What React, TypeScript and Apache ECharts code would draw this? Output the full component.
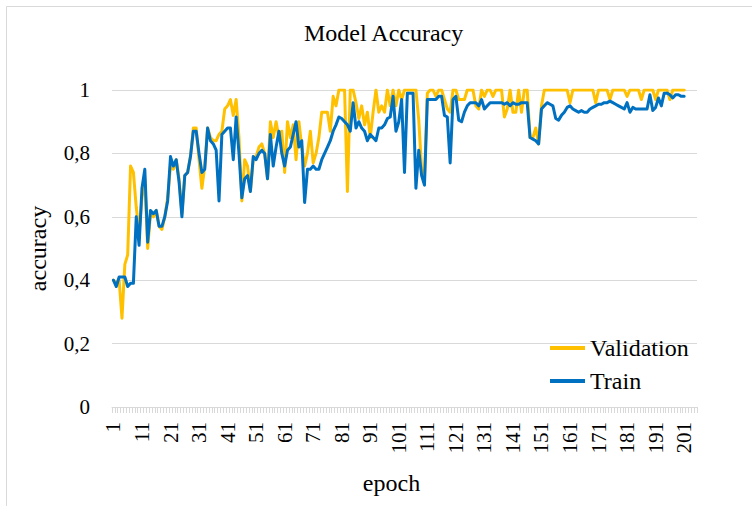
import React, { useEffect, useRef } from "react";
import * as echarts from "echarts";

const FONT = "Liberation Serif";

// epochs on the category axis (axis extends a few bands past the last data point)
const epochs: string[] = Array.from({ length: 205 }, (_, i) => String(i + 1));

const validation: number[] = [
  0.40, 0.39, 0.40, 0.28, 0.45, 0.48, 0.76, 0.74, 0.63, 0.55,
  0.66, 0.72, 0.50, 0.61, 0.60, 0.62, 0.57, 0.56, 0.60, 0.66,
  0.76, 0.75, 0.78, 0.72, 0.61, 0.73, 0.74, 0.79, 0.88, 0.88,
  0.78, 0.69, 0.76, 0.88, 0.85, 0.84, 0.84, 0.86, 0.87, 0.94,
  0.95, 0.97, 0.92, 0.97, 0.85, 0.65, 0.78, 0.76, 0.68, 0.78,
  0.79, 0.82, 0.83, 0.80, 0.72, 0.90, 0.85, 0.90, 0.85, 0.87,
  0.74, 0.90, 0.85, 0.89, 0.78, 0.90, 0.82, 0.76, 0.80, 0.87,
  0.77, 0.80, 0.85, 0.93, 0.93, 0.93, 0.87, 0.98, 0.95, 1.0,
  1.0, 1.0, 0.68, 1.0, 1.0, 0.96, 0.91, 0.95, 0.89, 0.93,
  0.85, 0.93, 1.0, 0.93, 0.95, 0.93, 1.0, 0.95, 1.0, 0.95,
  1.0, 0.97, 1.0, 1.0, 1.0, 1.0, 1.0, 0.905, 0.75, 0.72,
  0.99, 1.0, 1.0, 0.98, 1.0, 1.0, 0.97, 0.94, 0.93, 1.0,
  1.0, 0.97, 0.97, 0.97, 1.0, 1.0, 1.0, 0.95, 0.94, 1.0,
  0.98, 1.0, 1.0, 0.98, 1.0, 1.0, 1.0, 0.915, 0.94, 1.0,
  0.93, 0.93, 1.0, 0.93, 1.0, 1.0, 0.85, 0.85, 0.88, 0.83,
  0.95, 1.0, 1.0, 1.0, 1.0, 1.0, 1.0, 1.0, 1.0, 1.0,
  0.96, 1.0, 1.0, 1.0, 1.0, 1.0, 1.0, 1.0, 1.0, 0.96,
  1.0, 1.0, 1.0, 1.0, 0.97, 1.0, 1.0, 1.0, 1.0, 1.0,
  0.98, 1.0, 1.0, 1.0, 1.0, 0.97, 1.0, 1.0, 1.0, 1.0,
  0.97, 1.0, 1.0, 1.0, 1.0, 0.97, 1.0, 1.0, 1.0, 1.0,
  1.0,
];

const train: number[] = [
  0.40, 0.38, 0.41, 0.41, 0.41, 0.38, 0.39, 0.39, 0.60, 0.51,
  0.69, 0.75, 0.52, 0.62, 0.61, 0.62, 0.57, 0.57, 0.60, 0.65,
  0.79, 0.76, 0.78, 0.71, 0.60, 0.73, 0.74, 0.79, 0.87, 0.87,
  0.80, 0.74, 0.75, 0.88, 0.84, 0.83, 0.81, 0.65, 0.86, 0.87,
  0.88, 0.88, 0.78, 0.915, 0.80, 0.66, 0.72, 0.73, 0.68, 0.79,
  0.78, 0.80, 0.81, 0.80, 0.72, 0.86, 0.76, 0.82, 0.87, 0.80,
  0.76, 0.81, 0.82, 0.86, 0.90, 0.82, 0.84, 0.645, 0.75, 0.75,
  0.76, 0.75, 0.75, 0.78, 0.80, 0.82, 0.84, 0.87, 0.89, 0.915,
  0.91, 0.90, 0.89, 0.87, 0.96, 0.88, 0.90, 0.88, 0.87, 0.84,
  0.86, 0.85, 0.84, 0.88, 0.88, 0.89, 0.91, 0.915, 0.98, 0.87,
  0.90, 0.97, 0.74, 0.99, 0.99, 0.99, 0.69, 0.81, 0.73, 0.70,
  0.97, 0.97, 0.97, 0.97, 0.98, 0.98, 0.92, 0.915, 0.77, 0.97,
  0.98, 0.905, 0.90, 0.93, 0.95, 0.96, 0.96, 0.96, 0.95, 0.97,
  0.94, 0.95, 0.96, 0.96, 0.96, 0.96, 0.96, 0.955, 0.96, 0.95,
  0.96, 0.955, 0.955, 0.96, 0.96, 0.96, 0.85, 0.845, 0.84, 0.83,
  0.94, 0.95, 0.96, 0.955, 0.95, 0.91, 0.905, 0.92, 0.93, 0.945,
  0.95, 0.94, 0.935, 0.93, 0.935, 0.93, 0.93, 0.94, 0.945, 0.95,
  0.955, 0.955, 0.96, 0.96, 0.965, 0.96, 0.955, 0.95, 0.945, 0.94,
  0.96, 0.93, 0.945, 0.94, 0.94, 0.94, 0.94, 0.94, 0.985, 0.935,
  0.945, 0.975, 0.95, 0.99, 0.99, 0.985, 0.975, 0.985, 0.985, 0.98,
  0.98,
];

export default function App() {
  const ref = useRef<HTMLDivElement>(null);

  useEffect(() => {
    if (!ref.current) return;
    const chart = echarts.init(ref.current, null, { renderer: "svg" });
    chart.setOption({
      animation: false,
      backgroundColor: "#ffffff",
      textStyle: { fontFamily: FONT },
      title: {
        text: "Model Accuracy",
        left: 299,
        top: 16,
        textStyle: { fontFamily: FONT, fontSize: 24, fontWeight: "normal", color: "#000000" },
      },
      legend: {
        orient: "vertical",
        left: 545,
        top: 331,
        itemWidth: 35,
        itemHeight: 4,
        itemGap: 9,
        icon: "rect",
        data: ["Validation", "Train"],
        textStyle: { fontFamily: FONT, fontSize: 24, color: "#000000", lineHeight: 24 },
      },
      grid: { left: 112, right: 55, top: 90, bottom: 99 },
      xAxis: {
        type: "category",
        data: epochs,
        boundaryGap: true,
        name: "epoch",
        nameLocation: "middle",
        nameGap: 64,
        nameTextStyle: { fontFamily: FONT, fontSize: 24, color: "#000000", padding: [0, 26, 0, 0] },
        axisLine: { show: true, lineStyle: { color: "#d9d9d9", width: 1 } },
        axisTick: { show: true, interval: 0, length: 6, lineStyle: { color: "#d9d9d9", width: 1 } },
        axisLabel: {
          interval: 9,
          rotate: 90,
          margin: 15,
          fontFamily: FONT,
          fontSize: 21,
          color: "#000000",
        },
        splitLine: { show: false },
      },
      yAxis: {
        type: "value",
        min: 0,
        max: 1,
        interval: 0.2,
        name: "accuracy",
        nameLocation: "middle",
        nameGap: 62,
        nameTextStyle: { fontFamily: FONT, fontSize: 24, color: "#000000" },
        axisLine: { show: false },
        axisTick: { show: false },
        splitLine: { show: true, lineStyle: { color: "#d9d9d9", width: 1 } },
        axisLabel: {
          margin: 22,
          fontFamily: FONT,
          fontSize: 21,
          color: "#000000",
          formatter: (v: number) => String(Math.round(v * 10) / 10).replace(".", ","),
        },
      },
      series: [
        {
          name: "Validation",
          type: "line",
          data: validation,
          showSymbol: false,
          symbol: "none",
          color: "#FFC000",
          lineStyle: { width: 3, color: "#FFC000", cap: "round", join: "round" },
        },
        {
          name: "Train",
          type: "line",
          data: train,
          showSymbol: false,
          symbol: "none",
          color: "#0070C0",
          lineStyle: { width: 3, color: "#0070C0", cap: "round", join: "round" },
        },
      ],
      graphic: [
        {
          type: "rect",
          silent: true,
          shape: { x: 6.5, y: 6.5, width: 800, height: 600 },
          style: { fill: "none", stroke: "#d9d9d9", lineWidth: 1 },
        },
      ],
    });
    return () => chart.dispose();
  }, []);

  return (
    <div
      ref={ref}
      style={{ position: "fixed", left: 0, top: 0, width: 752, height: 506 }}
    />
  );
}
